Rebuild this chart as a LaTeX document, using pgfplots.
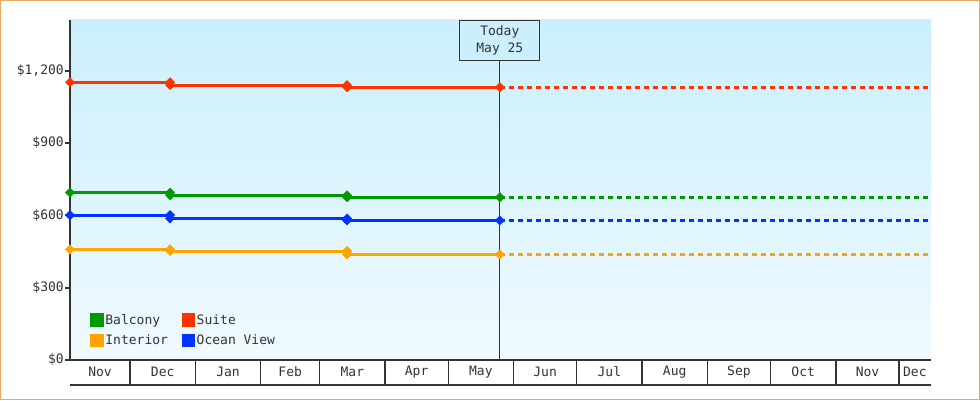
\documentclass[border=0pt]{standalone}
\usepackage{fontspec}
\setmainfont{DejaVu Sans Mono}
\usepackage{pgfplots}
\usepackage{pgfplotstable}
\pgfplotsset{compat=1.18}

\definecolor{bgtop}{HTML}{CBEFFC}
\definecolor{bgbot}{HTML}{F0FAFE}
\definecolor{axgray}{HTML}{333333}
\definecolor{framec}{HTML}{E9A961}
\definecolor{suite}{HTML}{FF3300}
\definecolor{balcony}{HTML}{009900}
\definecolor{ocean}{HTML}{0033FF}
\definecolor{interior}{HTML}{FFA500}

% day = days since Nov 1
\pgfplotstableread{
day   balcony suite interior ocean
1.5   694     1152  459      601
49    694     1152  459      601
49    683     1140  452      587
133   683     1140  452      587
133   675     1131  438      579
205.5 675     1131  438      579
}\history

\pgfplotstableread{
day   balcony suite interior ocean
205.5 675     1131  438      579
410   675     1131  438      579
}\forecast

\newcommand\lblfont{\fontsize{13}{17.7}\selectfont}

\begin{document}
\begin{tikzpicture}
\useasboundingbox (0,0) rectangle (980pt,400pt);
\begin{axis}[
    at={(70pt,40pt)}, anchor=south west,
    scale only axis, width=860.7pt, height=340pt,
    xmin=1.5, xmax=410, ymin=0, ymax=1410,
    axis x line*=bottom, axis y line*=left,
    axis line style={axgray, -},
    x axis line style={line width=1.5pt},
    y axis line style={line width=2pt},
    clip=false,
    axis background/.style={top color=bgtop, bottom color=bgbot},
    ytick={0,300,600,900,1200},
    yticklabels={\$0,\$300,\$600,\$900,{\$1,200}},
    xtick={15.75,45.5,76.5,106,135.5,166,196.5,227,257.5,288.5,319,349.5,380,402.5},
    xticklabels={Nov,Dec,Jan,Feb,Mar,Apr,May,Jun,Jul,Aug,Sep,Oct,Nov,Dec},
    minor xtick={30,61,92,120,151,181,212,242,273,304,334,365,395},
    tick align=outside,
    major tick length=5pt,
    minor tick length=25pt,
    major x tick style={draw=none},
    minor x tick style={axgray, line width=1.3pt},
    major y tick style={axgray, line width=2pt},
    ticklabel style={font=\lblfont, text=axgray},
    xticklabel style={anchor=center, yshift=-7pt},
    yticklabel style={inner sep=1pt},
    legend columns=2,
    legend cell align=left,
    legend style={at={(0,0)}, anchor=south west, xshift=20pt, yshift=12pt,
        draw=none, fill=none, font=\lblfont, text=axgray,
        row sep=6pt, inner sep=0pt,
        nodes={inner sep=1.5pt},
        /tikz/every even column/.append style={column sep=12pt}},
    legend image code/.code={\fill[#1] (0pt,-5.3pt) rectangle (10.7pt,5.3pt);},
    every axis plot/.append style={line width=3pt, mark=square*,
        mark size=3.2pt, mark options={solid, rotate=45, line width=0.6pt}},
]
\addplot[balcony] table[x=day, y=balcony] {\history};
\addlegendentry{Balcony}
\addplot[suite] table[x=day, y=suite] {\history};
\addlegendentry{Suite}
\addplot[interior] table[x=day, y=interior] {\history};
\addlegendentry{Interior}
\addplot[ocean] table[x=day, y=ocean] {\history};
\addlegendentry{Ocean View}

\addplot[balcony, dash pattern=on 5pt off 4pt, mark=none, forget plot] table[x=day, y=balcony] {\forecast};
\addplot[suite, dash pattern=on 5pt off 4pt, mark=none, forget plot] table[x=day, y=suite] {\forecast};
\addplot[interior, dash pattern=on 5pt off 4pt, mark=none, forget plot] table[x=day, y=interior] {\forecast};
\addplot[ocean, dash pattern=on 5pt off 4pt, mark=none, forget plot] table[x=day, y=ocean] {\forecast};

% today marker
\addplot[axgray, line width=1pt, mark=none, forget plot] coordinates {(205.5,0) (205.5,1410)};
\node[draw=axgray, fill=bgtop, line width=1pt, minimum width=80pt, minimum height=40pt,
      anchor=north, align=center, text=axgray, font=\lblfont, inner sep=0pt]
      at (axis cs:205.5,1410) {Today\\May 25};

\draw[axgray, line width=1.3pt] ([yshift=-25pt]rel axis cs:0,0) -- ([yshift=-25pt]rel axis cs:1,0);
\end{axis}
\draw[framec, line width=1pt] (0.5pt,0.5pt) rectangle (979.5pt,399.5pt);
\end{tikzpicture}
\end{document}
